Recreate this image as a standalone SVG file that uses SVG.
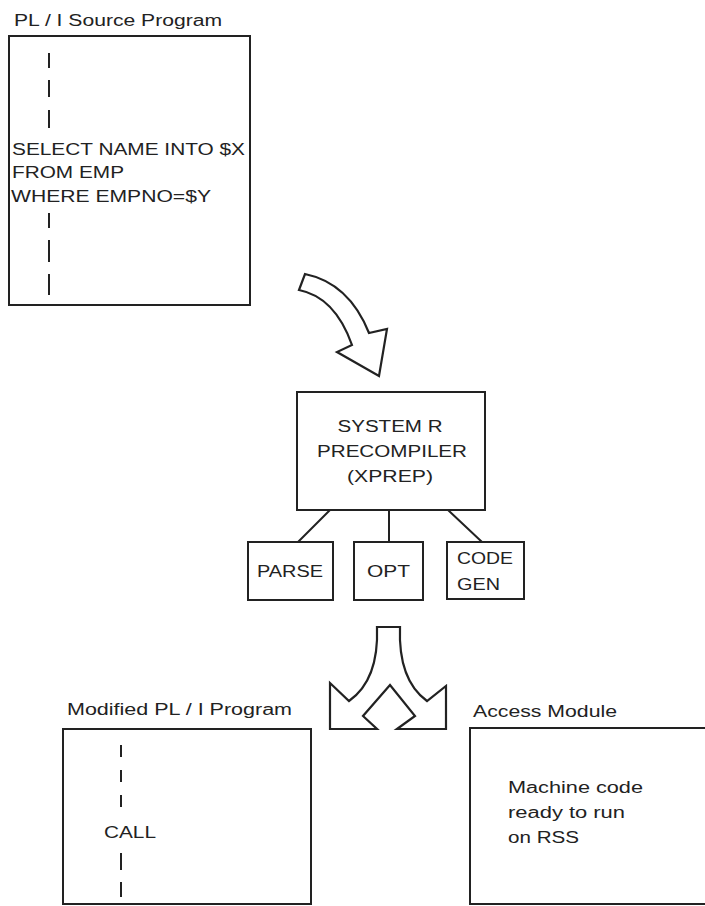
<svg xmlns="http://www.w3.org/2000/svg" width="705" height="906" viewBox="0 0 705 906">
<style>
.box{fill:none;stroke:#222;stroke-width:2}
.ln{fill:none;stroke:#222;stroke-width:2}
.dash{fill:none;stroke:#222;stroke-width:2}
.arr{fill:#fff;stroke:#222;stroke-width:2.2;stroke-linejoin:miter}
text{font-family:"Liberation Sans",Arial,sans-serif;font-size:16px;fill:#222}
.c{text-anchor:middle}
</style>
<rect width="705" height="906" fill="#fff"/>
<g id="source">
<text x="14" y="26" textLength="208" lengthAdjust="spacingAndGlyphs">PL / I Source Program</text>
<rect class="box" x="9" y="36" width="241" height="269"/>
<path class="dash" d="M49,53V68M49,80V97M49,110V128M49,213V228M49,240V262M49,274V295"/>
<text x="12" y="155" textLength="233" lengthAdjust="spacingAndGlyphs">SELECT NAME INTO $X</text>
<text x="12" y="178" textLength="112" lengthAdjust="spacingAndGlyphs">FROM EMP</text>
<text x="11" y="202" textLength="200" lengthAdjust="spacingAndGlyphs">WHERE EMPNO=$Y</text>
</g>
<g id="precompiler">
<rect class="box" x="297" y="392" width="188" height="118"/>
<text class="c" x="390" y="432" textLength="105" lengthAdjust="spacingAndGlyphs">SYSTEM R</text>
<text class="c" x="392" y="457" textLength="150" lengthAdjust="spacingAndGlyphs">PRECOMPILER</text>
<text class="c" x="390" y="482" textLength="86" lengthAdjust="spacingAndGlyphs">(XPREP)</text>
</g>
<g id="parse">
<rect class="box" x="248" y="542" width="85" height="58"/>
<text class="c" x="290" y="577" textLength="66" lengthAdjust="spacingAndGlyphs">PARSE</text>
</g>
<g id="opt">
<rect class="box" x="354" y="542" width="69" height="58"/>
<text class="c" x="388.5" y="577" textLength="43" lengthAdjust="spacingAndGlyphs">OPT</text>
</g>
<g id="codegen">
<rect class="box" x="447" y="542" width="77" height="57"/>
<text x="457" y="564" textLength="56" lengthAdjust="spacingAndGlyphs">CODE</text>
<text x="457" y="590" textLength="43" lengthAdjust="spacingAndGlyphs">GEN</text>
</g>
<g id="modified">
<text x="67" y="715" textLength="225" lengthAdjust="spacingAndGlyphs">Modified PL / I Program</text>
<rect class="box" x="63" y="729" width="248" height="175"/>
<path class="dash" d="M121,745V757M121,770V782M121,795V807M121,853V870M121,882V897"/>
<text x="104" y="838" textLength="52" lengthAdjust="spacingAndGlyphs">CALL</text>
</g>
<g id="access">
<text x="473" y="717" textLength="144" lengthAdjust="spacingAndGlyphs">Access Module</text>
<path class="box" d="M708,728H470V904H708"/>
<text x="508" y="793" textLength="135" lengthAdjust="spacingAndGlyphs">Machine code</text>
<text x="508" y="818" textLength="117" lengthAdjust="spacingAndGlyphs">ready to run</text>
<text x="508" y="843" textLength="71" lengthAdjust="spacingAndGlyphs">on RSS</text>
</g>
<g id="connectors">
<path class="ln" d="M330,510L298,542M389,510V542M448,510L482,542"/>
<path class="arr" d="M305,274Q349,283 369,333L387,329L379,376L337,352L352,345Q335,297 299,290Z"/>
<path class="arr" d="M377,627H400Q398,680 427,701L446,686V729H397L415,716L390,685L363,716L377,729H330V683L349,701Q379,680 377,627Z"/>
</g>
</svg>
